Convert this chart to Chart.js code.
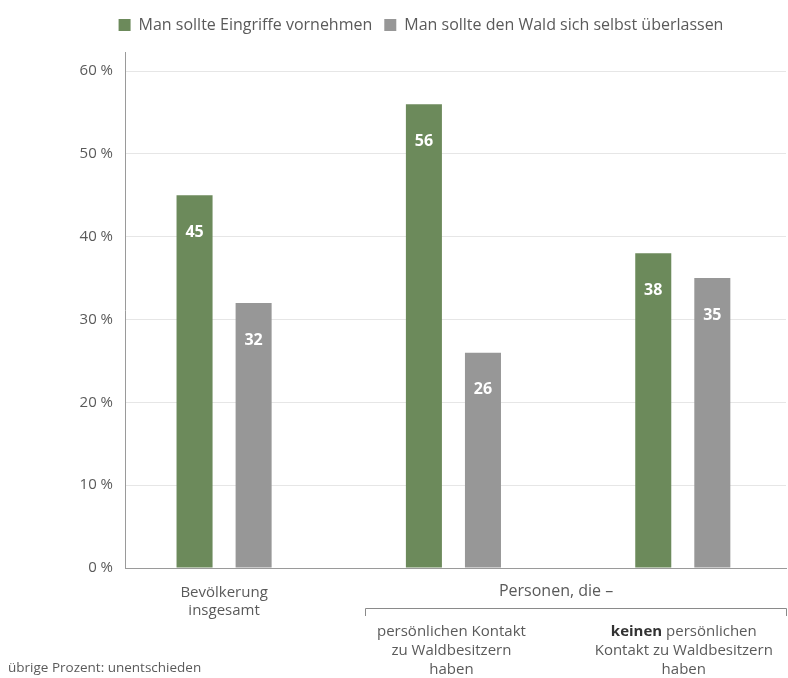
<!DOCTYPE html>
<html>
<head>
<meta charset="utf-8">
<script src="https://cdn.jsdelivr.net/npm/chart.js@4"></script>
<style>
  html,body{margin:0;padding:0;background:#fff;}
  #wrap{position:relative;width:788px;height:678px;}
</style>
</head>
<body>
<div id="wrap"><canvas id="waldChart" width="788" height="678"></canvas></div>
<script>
const groups = [0, 1, 2];
const groupLabels = [['Bevölkerung', 'insgesamt'], [], []];
const eingriffe = [45, 56, 38];
const selbst = [32, 26, 35];
const seriesNames = ['Man sollte Eingriffe vornehmen', 'Man sollte den Wald sich selbst überlassen'];
const yTicks = [0, 10, 20, 30, 40, 50, 60];
const subTitle = 'Personen, die –';
const subLabels = [
  [['persönlichen Kontakt'], ['zu Waldbesitzern'], ['haben']],
  [['keinen', ' persönlichen'], ['Kontakt zu Waldbesitzern'], ['haben']]
];
const footnote = 'übrige Prozent: unentschieden';

const GREEN = '#6c8a5b', GREY = '#979797', TXT = '#5a5a5a';
const FONT = '"Open Sans", Lato, sans-serif';

const extras = {
  id: 'extras',
  afterLayout(chart){
    // legend in the original sits right of the canvas centre and a bit higher
    const lg = chart.legend; lg.left += 28; lg.right += 28; lg.top -= 9; lg.bottom -= 9;
  },
  afterDatasetsDraw(chart){
    const ctx = chart.ctx; ctx.save();
    ctx.fillStyle = '#fff'; ctx.font = 'bold 16px ' + FONT; ctx.textAlign = 'center'; ctx.textBaseline = 'middle';
    chart.data.datasets.forEach((ds, di) => {
      chart.getDatasetMeta(di).data.forEach((bar, i) => {
        ctx.fillText(ds.data[i].y, bar.x, bar.y + 37);
      });
    });
    ctx.restore();
  },
  afterDraw(chart){
    const ctx = chart.ctx, x = chart.scales.x; ctx.save();
    ctx.fillStyle = TXT; ctx.textAlign = 'center'; ctx.textBaseline = 'middle';
    ctx.font = '16px ' + FONT;
    ctx.fillText(subTitle, (x.getPixelForValue(1) + x.getPixelForValue(2)) / 2 - 12, 591);
    // bracket
    ctx.strokeStyle = '#8a8a8a'; ctx.lineWidth = 1;
    ctx.beginPath(); ctx.moveTo(365.5, 616); ctx.lineTo(365.5, 608.5); ctx.lineTo(786.5, 608.5); ctx.lineTo(786.5, 616); ctx.stroke();
    subLabels.forEach((lines, gi) => {
      const cx = x.getPixelForValue(gi + 1) + (gi ? 1 : -2);
      lines.forEach((parts, li) => {
        const y = 632 + li * 19;
        if (parts.length === 1){ ctx.font = '15px ' + FONT; ctx.textAlign = 'center'; ctx.fillText(parts[0], cx, y); return; }
        ctx.font = 'bold 15px ' + FONT; const w1 = ctx.measureText(parts[0]).width;
        ctx.font = '15px ' + FONT; const w2 = ctx.measureText(parts[1]).width;
        let sx = cx - (w1 + w2) / 2; ctx.textAlign = 'left';
        ctx.font = 'bold 15px ' + FONT; ctx.fillStyle = '#333'; ctx.fillText(parts[0], sx, y);
        ctx.font = '15px ' + FONT; ctx.fillStyle = TXT; ctx.fillText(parts[1], sx + w1, y);
      });
    });
    ctx.textAlign = 'left'; ctx.font = '13.5px ' + FONT; ctx.fillStyle = TXT;
    ctx.fillText(footnote, 8, 668);
    ctx.restore();
  }
};

new Chart(document.getElementById('waldChart'), {
  type: 'bar',
  data: {
    datasets: [
      { label: seriesNames[0], data: groups.map((g, i) => ({ x: g, y: eingriffe[i] })), backgroundColor: GREEN },
      { label: seriesNames[1], data: groups.map((g, i) => ({ x: g, y: selbst[i] })), backgroundColor: GREY }
    ]
  },
  options: {
    responsive: false, animation: false,
    layout: { padding: { left: 0, right: 2, top: 14, bottom: 0 } },
    datasets: { bar: { categoryPercentage: 0.515, barPercentage: 0.61 } },
    plugins: {
      legend: {
        position: 'top',
        labels: { boxWidth: 12, boxHeight: 12, padding: 12, color: TXT, font: { family: FONT, size: 16 } }
      },
      tooltip: { enabled: false }
    },
    scales: {
      x: {
        type: 'linear', min: -0.432, max: 2.45, offset: false,
        afterBuildTicks: s => { s.ticks = groups.map(v => ({ value: v })); },
        afterFit: s => { s.height = 110; },
        grid: { display: false, drawTicks: false, offset: false },
        border: { color: '#9a9a9a', width: 1 },
        ticks: { padding: 16, color: TXT, font: { family: FONT, size: 15 }, callback: v => groupLabels[v] }
      },
      y: {
        min: 0, max: 62.3,
        afterBuildTicks: s => { s.ticks = yTicks.map(v => ({ value: v })); },
        afterFit: s => { s.width = 125; },
        grid: { color: '#e6e6e6', drawTicks: false },
        border: { color: '#9a9a9a', width: 1 },
        ticks: { padding: 12, color: TXT, font: { family: FONT, size: 15 }, callback: v => v + ' %' }
      }
    }
  },
  plugins: [extras]
});
</script>
</body>
</html>
